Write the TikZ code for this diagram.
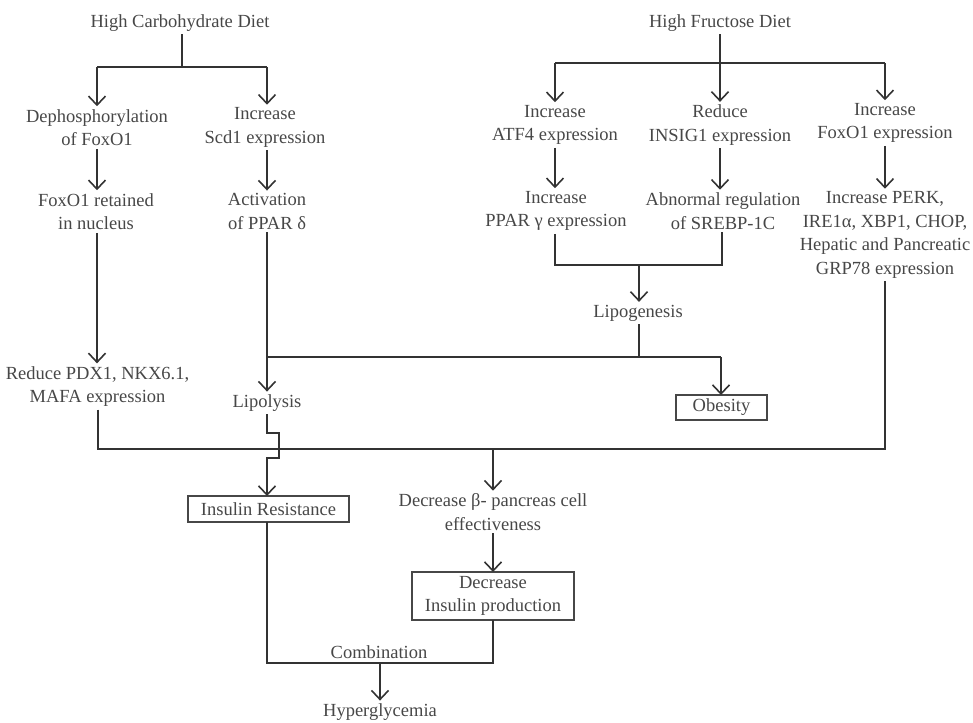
\documentclass[tikz,border=0pt]{standalone}
\usepackage{fontspec}
\setmainfont{Liberation Serif}
\usetikzlibrary{arrows.meta}
\definecolor{txtc}{HTML}{474747}
\definecolor{linec}{HTML}{333333}
\begin{document}
\begin{tikzpicture}[x=1pt,y=-1pt,
  lbl/.style={text=txtc,align=center,inner sep=3pt,outer sep=0pt,font=\fontsize{18.5}{23.5}\selectfont},
  boxed/.style={lbl,draw=txtc,line width=1.1pt,inner sep=0pt},
  conn/.style={draw=linec,line width=1.6pt},
  arr/.style={conn,-{Straight Barb[length=9pt,width=17pt,line width=1.6pt]}}]
\useasboundingbox (0,0) rectangle (973,722);
% nodes
\node[lbl] (hcd) at (180,23) {High Carbohydrate Diet};
\node[lbl] (hfd) at (720,23) {High Fructose Diet};
\node[lbl] (dephos) at (97,127.5) {Dephosphorylation\\of FoxO1};
\node[lbl] (scd) at (265,127.5) {Increase\\Scd1 expression};
\node[lbl] (atf4) at (555,125) {Increase\\ATF4 expression};
\node[lbl] (insig) at (720,125) {Reduce\\INSIG1 expression};
\node[lbl] (foxexp) at (885,123) {Increase\\FoxO1 expression};
\node[lbl] (foxret) at (96,211.5) {FoxO1 retained\\in nucleus};
\node[lbl] (ppard) at (267,211.5) {Activation\\of PPAR δ};
\node[lbl] (pparg) at (556,211) {Increase\\PPAR γ expression};
\node[lbl] (srebp) at (723,211) {Abnormal regulation\\of SREBP-1C};
\node[lbl] (perk) at (885,235) {Increase PERK,\\IRE1α, XBP1, CHOP,\\Hepatic and Pancreatic\\GRP78 expression};
\node[lbl] (lipog) at (638,313) {Lipogenesis};
\node[lbl] (pdx) at (97.5,386.5) {Reduce PDX1, NKX6.1,\\MAFA expression};
\node[lbl] (lipol) at (267,403) {Lipolysis};
\node[boxed,minimum width=91pt,minimum height=25pt] (obes) at (721.5,407.5) {Obesity};
\node[boxed,minimum width=161pt,minimum height=26pt] (insres) at (268.5,509) {Insulin Resistance};
\node[lbl] (decb) at (493,512) {Decrease β- pancreas cell\\effectiveness};
\node[boxed,minimum width=162pt,minimum height=48pt] (decins) at (493,596) {Decrease\\Insulin production};
\node[lbl] (comb) at (379,652) {Combination};
\node[lbl] (hyper) at (380,712) {Hyperglycemia};
% junction coordinates
\coordinate (jc) at (182,67);
\coordinate (jcl) at (97,67);
\coordinate (jcr) at (267,67);
\coordinate (jf) at (720,63);
\coordinate (jfl) at (555,63);
\coordinate (jfr) at (885,63);
\coordinate (jgl) at (555,265);
\coordinate (jgr) at (722,265);
\coordinate (jg) at (639,265);
\coordinate (jl) at (639,357);
\coordinate (jll) at (267,357);
\coordinate (jlr) at (721,357);
\coordinate (jbl) at (98,449);
\coordinate (jbr) at (885,449);
\coordinate (jbm) at (493,449);
\coordinate (k1) at (267,433);
\coordinate (k2) at (279,433);
\coordinate (k3) at (279,458);
\coordinate (k4) at (267,458);
\coordinate (jhl) at (267,663);
\coordinate (jhr) at (493,663);
\coordinate (jh) at (380,663);
% carbohydrate branch
\draw[conn] (hcd.south -| jc) -- (jc);
\draw[conn] (jcl) -- (jcr);
\draw[arr] (jcl) -- (jcl |- dephos.north);
\draw[arr] (jcr) -- (jcr |- scd.north);
\draw[arr] (dephos.south -| jcl) -- (jcl |- foxret.north);
\draw[arr] (scd.south -| jcr) -- (jcr |- ppard.north);
\draw[arr] (foxret.south -| jcl) -- (jcl |- pdx.north);
\draw[arr] (ppard.south -| jcr) -- (jcr |- lipol.north);
% fructose branch
\draw[arr] (hfd.south -| jf) -- (jf |- insig.north);
\draw[conn] (jfl) -- (jfr);
\draw[arr] (jfl) -- (jfl |- atf4.north);
\draw[arr] (jfr) -- (jfr |- foxexp.north);
\draw[arr] (atf4.south -| jfl) -- (jfl |- pparg.north);
\draw[arr] (insig.south -| jf) -- (jf |- srebp.north);
\draw[arr] (foxexp.south -| jfr) -- (jfr |- perk.north);
\draw[conn] (pparg.south -| jgl) -- (jgl) -- (jgr) -- (srebp.south -| jgr);
\draw[arr] (jg) -- (jg |- lipog.north);
\draw[conn] (lipog.south -| jl) -- (jl);
\draw[conn] (jll) -- (jlr);
\draw[arr] (jlr) -- (obes.north -| jlr);
% bottom collector
\draw[conn] (pdx.south -| jbl) -- (jbl) -- (jbr) -- (perk.south -| jbr);
\draw[arr] (lipol.south) -- (k1) -- (k2) -- (k3) -- (k4) -- (insres.north -| k4);
\draw[arr] (jbm) -- (decb.north -| jbm);
\draw[arr] (decb.south -| jbm) -- (decins.north);
\draw[conn] (insres.south -| jhl) -- (jhl) -- (jhr) -- (decins.south);
\draw[arr] (jh) -- (hyper.north -| jh);
\end{tikzpicture}
\end{document}
